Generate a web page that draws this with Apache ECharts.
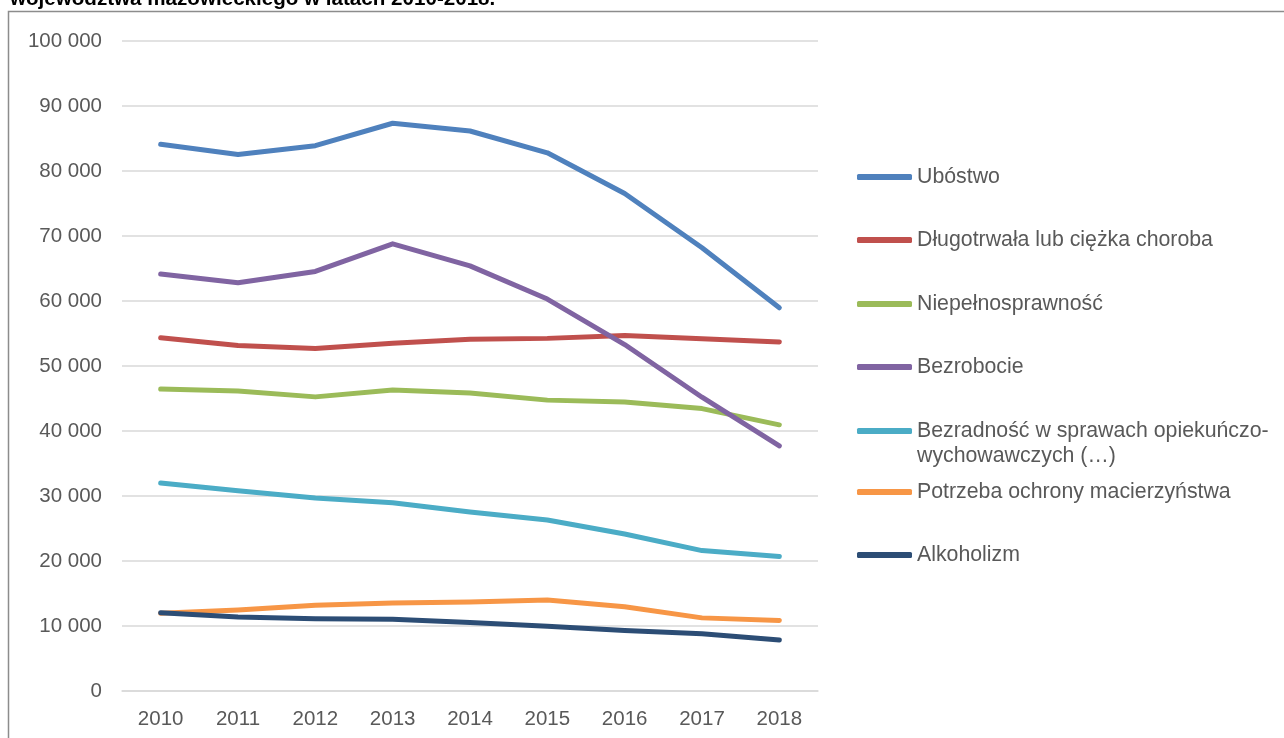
<!DOCTYPE html>
<html lang="pl">
<head>
    <title>Powody przyznania pomocy</title>
    <meta charset="utf-8"/>
    <style>
        html, body { margin: 0; padding: 0; background: #fff; }
        #chart { width: 1284px; height: 738px; }
    </style>
</head>
<body>
<div id="chart"></div>

<script src="https://cdn.jsdelivr.net/npm/echarts@6/dist/echarts.min.js"></script>
<script type="text/javascript">
    // lata
    var years = ['2010', '2011', '2012', '2013', '2014', '2015', '2016', '2017', '2018'];

    // liczba osób wg powodu
    var ubostwo      = [84100, 82550, 83900, 87350, 86150, 82800, 76550, 68200, 58950];
    var choroba      = [54350, 53150, 52700, 53500, 54100, 54250, 54700, 54200, 53700];
    var niepelnospr  = [46450, 46150, 45250, 46300, 45850, 44750, 44450, 43450, 40950];
    var bezrobocie   = [64150, 62800, 64550, 68800, 65400, 60300, 53300, 45200, 37700];
    var bezradnosc   = [32000, 30800, 29700, 28950, 27550, 26300, 24150, 21600, 20700];
    var macierzynstwo = [11950, 12450, 13200, 13550, 13700, 14000, 12950, 11250, 10850];
    var alkoholizm   = [12050, 11400, 11100, 11050, 10550, 9950, 9300, 8800, 7850];

    var seriesNames = [
        'Ubóstwo',
        'Długotrwała lub ciężka choroba',
        'Niepełnosprawność',
        'Bezrobocie',
        'Bezradność w sprawach opiekuńczo-wychowawczych (…)',
        'Potrzeba ochrony macierzyństwa',
        'Alkoholizm'
    ];
    var seriesData = [ubostwo, choroba, niepelnospr, bezrobocie, bezradnosc, macierzynstwo, alkoholizm];
    var colors = ['#4f81bd', '#c0504d', '#9bbb59', '#8064a2', '#4bacc6', '#f79646', '#2c4d75'];

    var yTicks = { min: 0, max: 100000, interval: 10000 };

    var FONT = '"Liberation Sans", Arial, sans-serif';
    var GREY = '#595959';

    var dom = document.getElementById('chart');
    var myChart = echarts.init(dom, null, { renderer: 'canvas' });

    // środki ikon legendy (y)
    var legendCenters = [177, 240, 304, 367, 431, 492, 555];

    var legends = seriesNames.map(function (name, i) {
        var twoLine = i === 4;
        return {
            orient: 'vertical',
            left: 857,
            top: twoLine ? legendCenters[i] - 37.5 : legendCenters[i] - 12.5,
            padding: 0,
            itemWidth: 55,
            itemHeight: 6,
            icon: 'roundRect',
            selectedMode: false,
            data: [name],
            formatter: function (n) {
                // pusta pierwsza linia, żeby ikona stała przy pierwszym wierszu opisu
                return twoLine ? '\nBezradność w sprawach opiekuńczo-\nwychowawczych (…)' : n;
            },
            textStyle: {
                fontFamily: FONT,
                fontSize: 21.3,
                color: GREY,
                lineHeight: 25
            }
        };
    });

    var series = seriesNames.map(function (name, i) {
        return {
            name: name,
            type: 'line',
            data: seriesData[i],
            symbol: 'none',
            showSymbol: false,
            color: colors[i],
            lineStyle: { width: 5, color: colors[i], cap: 'round', join: 'round' },
            emphasis: { disabled: true },
            animation: false
        };
    });

    var option = {
        backgroundColor: '#ffffff',
        animation: false,
        grid: { left: 122, right: 466, top: 41, bottom: 47, containLabel: false },
        legend: legends,
        xAxis: {
            type: 'category',
            data: years,
            boundaryGap: true,
            axisLine: { show: true, lineStyle: { color: '#d9d9d9', width: 1.5 } },
            axisTick: { show: false },
            axisLabel: { fontFamily: FONT, fontSize: 20.5, color: GREY, margin: 18 }
        },
        yAxis: {
            type: 'value',
            min: yTicks.min,
            max: yTicks.max,
            interval: yTicks.interval,
            axisLine: { show: false },
            axisTick: { show: false },
            splitLine: { lineStyle: { color: '#d9d9d9', width: 1.5 } },
            axisLabel: {
                fontFamily: FONT, fontSize: 20.5, color: GREY, margin: 20,
                formatter: function (v) {
                    return String(v).replace(/\B(?=(\d{3})+(?!\d))/g, ' ');
                }
            }
        },
        graphic: [
            {
                type: 'rect',
                silent: true,
                shape: { x: 8.5, y: 11.5, width: 1400, height: 900 },
                style: { fill: null, stroke: '#8c8c8c', lineWidth: 1.5 }
            },
            {
                type: 'text',
                silent: true,
                x: 10,
                y: -1,
                style: {
                    text: 'województwa mazowieckiego w latach 2010-2018.',
                    font: 'bold 20.6px ' + FONT,
                    fill: '#000',
                    verticalAlign: 'middle'
                }
            }
        ],
        series: series
    };

    if (option && typeof option === 'object') {
        myChart.setOption(option, true);
    }
</script>
</body>
</html>
